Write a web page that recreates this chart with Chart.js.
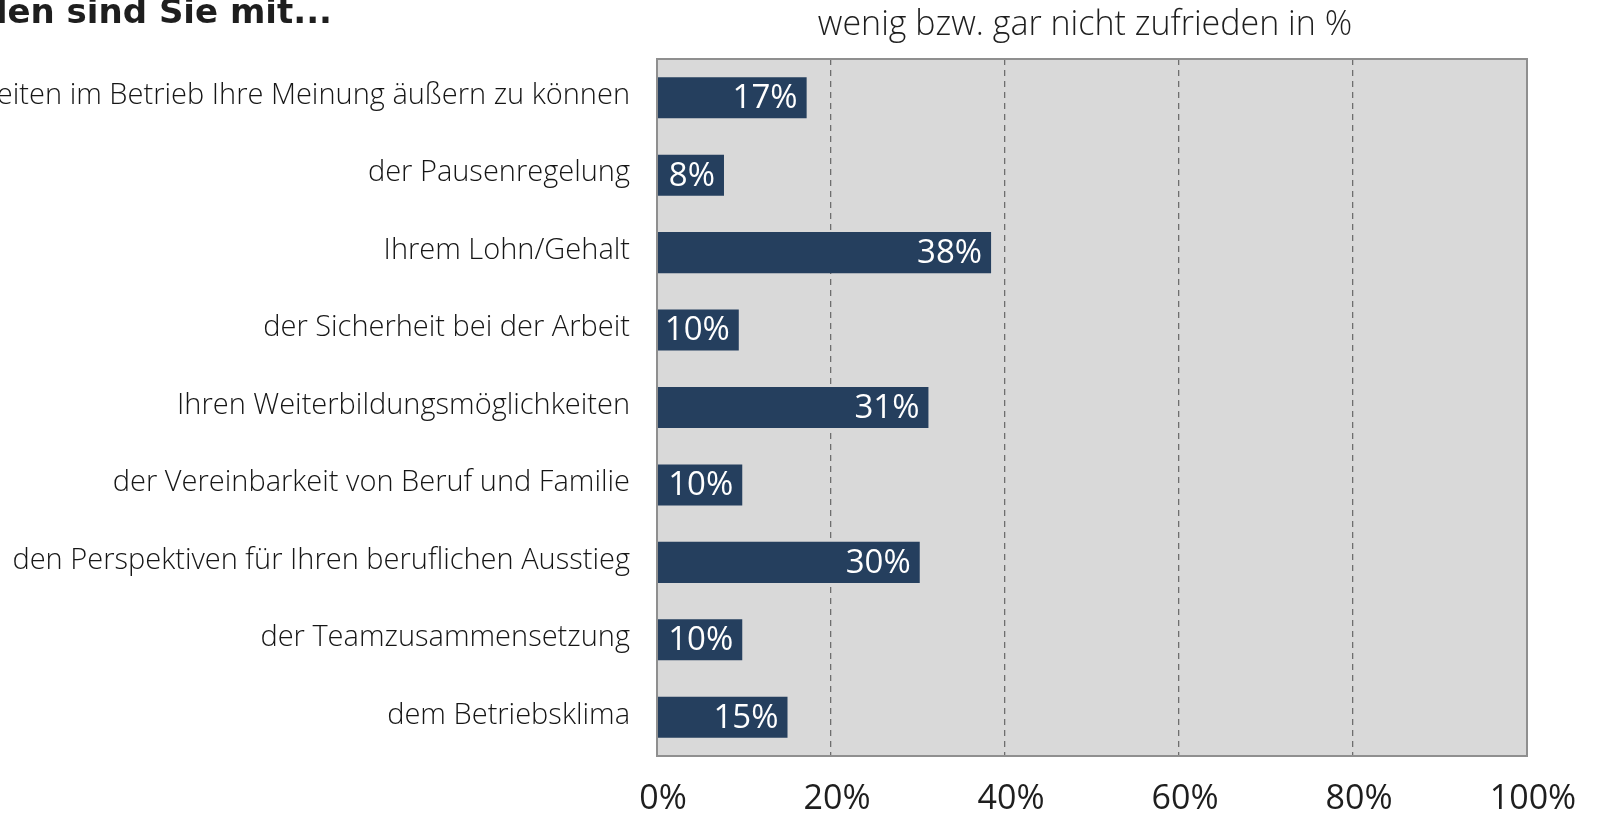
<!DOCTYPE html>
<html>
<head>
    <title>Zufriedenheit</title>
    <script src="https://cdn.jsdelivr.net/npm/chart.js"></script>
    <style>
        html, body { margin: 0; padding: 0; background: #fff; }
        #wrap { width: 1600px; height: 814px; }
    </style>
</head>
<body>
    <div id="wrap"><canvas id="chart" width="1600" height="814"></canvas></div>

<script>
    // Kategorien (erste ist links abgeschnitten im Original)
    const categories = [
        'den Möglichkeiten im Betrieb Ihre Meinung äußern zu können',
        'der Pausenregelung',
        'Ihrem Lohn/Gehalt',
        'der Sicherheit bei der Arbeit',
        'Ihren Weiterbildungsmöglichkeiten',
        'der Vereinbarkeit von Beruf und Familie',
        'den Perspektiven für Ihren beruflichen Ausstieg',
        'der Teamzusammensetzung',
        'dem Betriebsklima'
    ];
    // Balkenlängen
    const values = [17.2, 7.7, 38.4, 9.4, 31.2, 9.8, 30.2, 9.8, 15.0];
    // Beschriftung der Balken
    const valueLabels = ['17%', '8%', '38%', '10%', '31%', '10%', '30%', '10%', '15%'];
    const xTicks = [0, 20, 40, 60, 80, 100];

    const heading = 'Wie zufrieden sind Sie mit...';
    const subtitle = 'wenig bzw. gar nicht zufrieden in %';

    const FONT = '"Open Sans", Lato, sans-serif';

    // Hintergrund, Rahmen, Titel und Balkenwerte
    const decor = {
        id: 'decor',
        beforeDraw(chart) {
            const { ctx, chartArea: a } = chart;
            ctx.save();
            ctx.fillStyle = '#ffffff';
            ctx.fillRect(0, 0, chart.width, chart.height);
            ctx.fillStyle = '#d9d9d9';
            ctx.fillRect(a.left, a.top, a.right - a.left, a.bottom - a.top);
            ctx.restore();
        },
        afterDatasetsDraw(chart) {
            const { ctx } = chart;
            const meta = chart.getDatasetMeta(0);
            ctx.save();
            ctx.font = '33px ' + FONT;
            ctx.fillStyle = '#ffffff';
            ctx.textAlign = 'right';
            ctx.textBaseline = 'middle';
            meta.data.forEach((bar, i) => {
                ctx.fillText(valueLabels[i], bar.x - 9, bar.y + 1);
            });
            ctx.restore();
        },
        afterDraw(chart) {
            const { ctx, chartArea: a } = chart;
            ctx.save();
            ctx.strokeStyle = '#8f8f8f';
            ctx.lineWidth = 2;
            ctx.strokeRect(a.left, a.top, a.right - a.left, a.bottom - a.top);

            ctx.fillStyle = '#1e1e1e';
            ctx.textBaseline = 'middle';
            ctx.font = 'bold 34px "DejaVu Sans", sans-serif';
            ctx.textAlign = 'right';
            ctx.fillText(heading, 332, 14);

            ctx.font = '300 34px ' + FONT;
            ctx.textAlign = 'center';
            ctx.fillText(subtitle, (a.left + a.right) / 2 - 7, 25);
            ctx.restore();
        }
    };

    const ctx = document.getElementById('chart').getContext('2d');
    const chart = new Chart(ctx, {
        type: 'bar',
        data: {
            labels: categories,
            datasets: [{
                data: values,
                backgroundColor: '#253f5e',
                borderWidth: 0,
                categoryPercentage: 1.0,
                barPercentage: 0.53
            }]
        },
        options: {
            indexAxis: 'y',
            responsive: false,
            animation: false,
            layout: { padding: { top: 59, right: 73, left: 0, bottom: 0 } },
            plugins: {
                legend: { display: false },
                tooltip: { enabled: false }
            },
            scales: {
                x: {
                    min: 0,
                    max: 100,
                    afterBuildTicks: (scale) => {
                        scale.ticks = xTicks.map(v => ({ value: v }));
                    },
                    afterFit: (scale) => { scale.height = 58; },
                    ticks: {
                        callback: v => v + '%',
                        color: '#1e1e1e',
                        font: { family: FONT, size: 34 },
                        padding: 23,
                        labelOffset: 6,
                        maxRotation: 0
                    },
                    grid: {
                        color: '#6e6e6e',
                        lineWidth: 1.3,
                        drawTicks: false
                    },
                    border: { display: false, dash: [6, 5] }
                },
                y: {
                    afterFit: (scale) => { scale.width = 657; },
                    ticks: {
                        color: '#161616',
                        font: { family: FONT, size: 29, weight: '300' },
                        padding: 27,
                        labelOffset: -2
                    },
                    grid: { display: false, drawTicks: false },
                    border: { display: false }
                }
            }
        },
        plugins: [decor]
    });
</script>
</body>
</html>
